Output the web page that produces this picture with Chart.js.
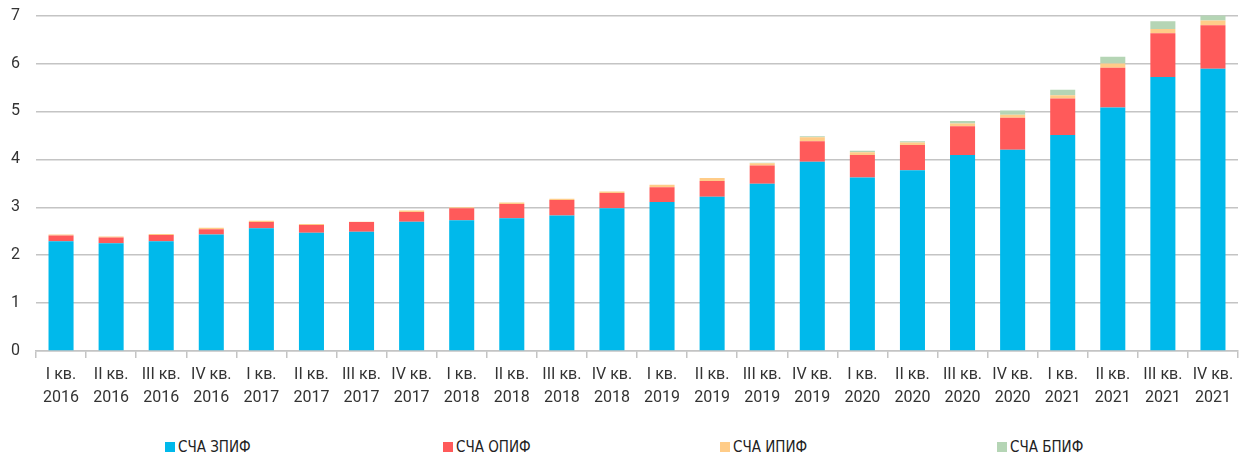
<!DOCTYPE html>
<html>
<head>
<meta charset="utf-8">
<script src="https://cdn.jsdelivr.net/npm/chart.js@4.4.1/dist/chart.umd.min.js"></script>
<style>
    html, body { margin: 0; padding: 0; background: #fff; overflow: hidden; }
    #wrap { position: relative; width: 1240px; height: 459px; overflow: hidden; }
    #chart-box { position: absolute; left: 0; top: -10px; width: 1240px; height: 421px; }
    #legend {
        position: absolute; left: 0; top: 437px; width: 1240px; height: 20px;
        font-family: "Liberation Sans Narrow", "DejaVu Sans Condensed", Roboto, sans-serif;
        font-size: 15px; color: #222;
    }
    .item { position: absolute; top: 0; display: flex; align-items: center; height: 20px; }
    .box { width: 10px; height: 10px; margin-right: 3px; }
</style>
</head>
<body>
<div id="wrap">
    <div id="chart-box"><canvas id="chart"></canvas></div>
    <div id="legend"></div>
</div>
<script>
// Quarters and series (трлн руб.)
const quarters = [
    ['I кв.', '2016'], ['II кв.', '2016'], ['III кв.', '2016'], ['IV кв.', '2016'],
    ['I кв.', '2017'], ['II кв.', '2017'], ['III кв.', '2017'], ['IV кв.', '2017'],
    ['I кв.', '2018'], ['II кв.', '2018'], ['III кв.', '2018'], ['IV кв.', '2018'],
    ['I кв.', '2019'], ['II кв.', '2019'], ['III кв.', '2019'], ['IV кв.', '2019'],
    ['I кв.', '2020'], ['II кв.', '2020'], ['III кв.', '2020'], ['IV кв.', '2020'],
    ['I кв.', '2021'], ['II кв.', '2021'], ['III кв.', '2021'], ['IV кв.', '2021']
];

const zpif = [2.29, 2.25, 2.29, 2.43, 2.56, 2.47, 2.49, 2.70, 2.73, 2.77, 2.83, 2.98,
              3.11, 3.22, 3.49, 3.95, 3.62, 3.77, 4.09, 4.20, 4.51, 5.08, 5.72, 5.89];
const opif = [0.12, 0.12, 0.13, 0.11, 0.13, 0.16, 0.20, 0.20, 0.25, 0.30, 0.32, 0.32,
              0.31, 0.33, 0.38, 0.43, 0.47, 0.53, 0.60, 0.67, 0.76, 0.83, 0.91, 0.91];
const ipif = [0.02, 0.02, 0.02, 0.03, 0.03, 0.02, 0.01, 0.03, 0.02, 0.03, 0.03, 0.03,
              0.05, 0.06, 0.05, 0.08, 0.06, 0.05, 0.06, 0.06, 0.07, 0.09, 0.09, 0.10];
const bpif = [0, 0, 0, 0, 0, 0, 0, 0, 0, 0, 0, 0,
              0, 0, 0.01, 0.02, 0.03, 0.03, 0.05, 0.09, 0.11, 0.14, 0.16, 0.15];

const yTicks = [0, 1, 2, 3, 4, 5, 6, 7];

const seriesNames = ['СЧА ЗПИФ', 'СЧА ОПИФ', 'СЧА ИПИФ', 'СЧА БПИФ'];
const seriesColors = ['#00B9EB', '#FF5A5A', '#FFCC88', '#B5D5B5'];
const seriesData = [zpif, opif, ipif, bpif];

const gridColor = '#c4c4c4';
const tickFont = { family: 'Roboto, "Open Sans", sans-serif', size: 16 };

/**
 * Build stacked bar datasets
 */
function buildDatasets() {
    return seriesNames.map((name, i) => ({
        label: name,
        data: seriesData[i],
        backgroundColor: seriesColors[i],
        borderWidth: 0,
        barPercentage: 0.5,
        categoryPercentage: 1.0,
        stack: 'scha'
    }));
}

const ctx = document.getElementById('chart').getContext('2d');
new Chart(ctx, {
    type: 'bar',
    data: {
        labels: quarters,
        datasets: buildDatasets()
    },
    options: {
        responsive: true,
        maintainAspectRatio: false,
        animation: false,
        layout: { padding: { top: 0, right: 2, left: 0, bottom: 0 } },
        plugins: {
            legend: { display: false },
            tooltip: { enabled: false }
        },
        scales: {
            x: {
                stacked: true,
                afterFit(scale) { scale.height = 60; },
                grid: {
                    offset: true,
                    drawOnChartArea: false,
                    drawTicks: true,
                    tickLength: 7,
                    color: gridColor,
                    lineWidth: 1.5
                },
                border: { display: true, color: gridColor, width: 1.5 },
                ticks: {
                    color: '#333',
                    font: { ...tickFont, lineHeight: 1.45 },
                    padding: 5,
                    maxRotation: 0,
                    autoSkip: false
                }
            },
            y: {
                stacked: true,
                min: 0,
                max: 7,
                afterFit(scale) { scale.width = 36; },
                afterBuildTicks(scale) {
                    scale.ticks = yTicks.map(v => ({ value: v }));
                },
                grid: {
                    color: gridColor,
                    lineWidth: 1.5,
                    drawTicks: false
                },
                border: { display: false },
                ticks: {
                    color: '#333',
                    font: tickFont,
                    padding: 16
                }
            }
        }
    }
});

// Legend: spread evenly as in the source layout
const legendEl = document.getElementById('legend');
const legendX = [165, 443, 720, 997];
seriesNames.forEach((name, i) => {
    const item = document.createElement('div');
    item.className = 'item';
    item.style.left = legendX[i] + 'px';
    const box = document.createElement('span');
    box.className = 'box';
    box.style.background = seriesColors[i];
    const label = document.createElement('span');
    label.textContent = name;
    item.appendChild(box);
    item.appendChild(label);
    legendEl.appendChild(item);
});
</script>
</body>
</html>
